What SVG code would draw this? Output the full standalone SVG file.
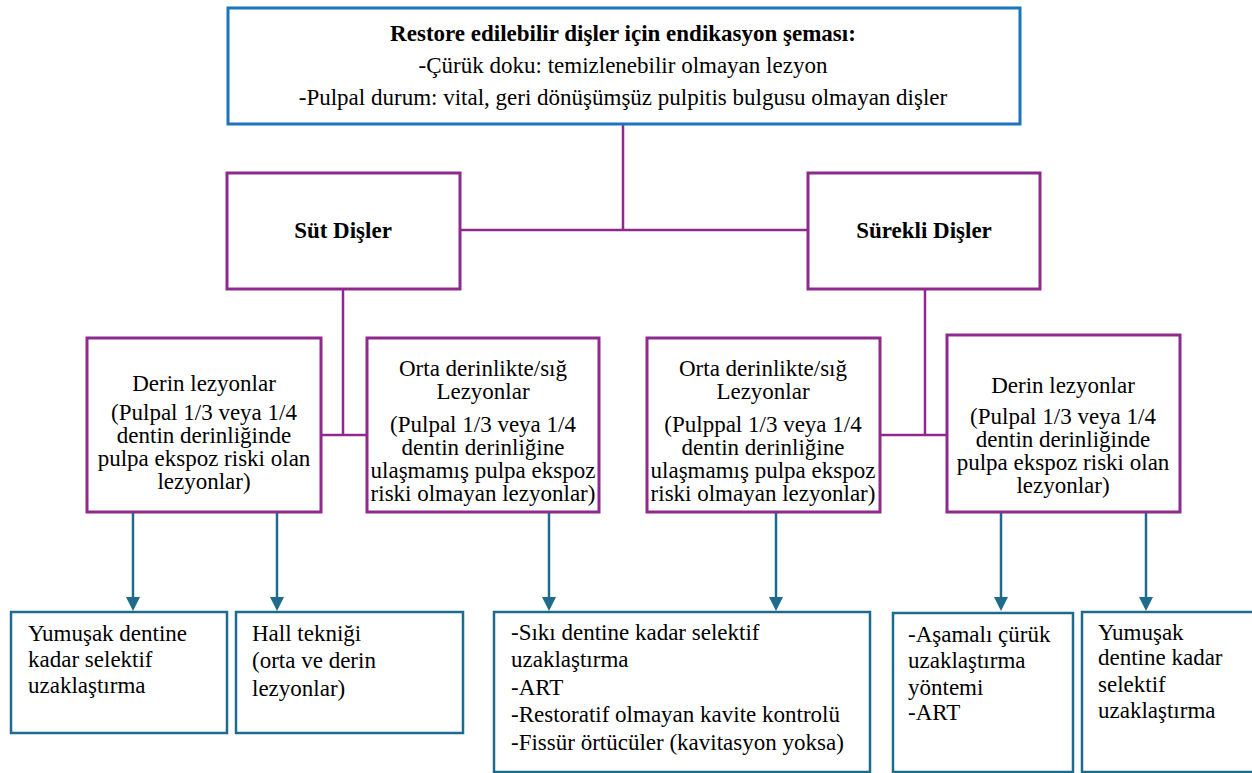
<svg xmlns="http://www.w3.org/2000/svg" width="1252" height="773" viewBox="0 0 1252 773">
<defs>
<style>
text{font-family:"Liberation Serif","Times New Roman","DejaVu Serif",serif;font-size:23px;fill:#000}
.b{font-weight:bold}
.c{text-anchor:middle}
.top{fill:#fff;stroke:#1b75bc;stroke-width:3}
.pb{fill:#fff;stroke:#8e2a8c;stroke-width:3}
.bb{fill:#fff;stroke:#1f6b8e;stroke-width:2.5}
.pl{fill:none;stroke:#8e2a8c;stroke-width:2.5}
.al{fill:none;stroke:#1f6b8e;stroke-width:2.5}
.ah{fill:#1f6b8e}
</style>
</defs>
<rect width="1252" height="773" fill="#fff"/>
<g id="connectors">
<path class="pl" d="M623,124 V230 M460,230 H808"/>
<path class="pl" d="M343,289 V435 M321,435 H367"/>
<path class="pl" d="M925,289 V435 M880,435 H947"/>
<g class="al">
<path d="M133,512 V598"/><path d="M277,512 V598"/><path d="M549,512 V598"/><path d="M776,512 V598"/><path d="M1001,512 V598"/><path d="M1146,512 V598"/>
</g>
<g class="ah">
<path d="M126,597 H140 L133,611 Z"/><path d="M270,597 H284 L277,611 Z"/><path d="M542,597 H556 L549,611 Z"/><path d="M769,597 H783 L776,611 Z"/><path d="M994,597 H1008 L1001,611 Z"/><path d="M1139,597 H1153 L1146,611 Z"/>
</g>
</g>
<g id="root">
<rect class="top" x="228" y="8" width="792" height="116"/>
<text class="b c" x="623" y="41">Restore edilebilir dişler için endikasyon şeması:</text>
<text class="c" x="623" y="73">-Çürük doku: temizlenebilir olmayan lezyon</text>
<text class="c" x="623" y="105">-Pulpal durum: vital, geri dönüşümşüz pulpitis bulgusu olmayan dişler</text>
</g>
<g id="sut">
<rect class="pb" x="227" y="173" width="233" height="116"/>
<text class="b c" x="343" y="238">Süt Dişler</text>
</g>
<g id="surekli">
<rect class="pb" x="808" y="173" width="232" height="116"/>
<text class="b c" x="924" y="238">Sürekli Dişler</text>
</g>
<g id="derin-sut">
<rect class="pb" x="87" y="338" width="234" height="174"/>
<text class="c" x="204" y="391">Derin lezyonlar</text>
<text class="c" x="204" y="420">(Pulpal 1/3 veya 1/4</text>
<text class="c" x="204" y="443">dentin derinliğinde</text>
<text class="c" x="204" y="466">pulpa ekspoz riski olan</text>
<text class="c" x="204" y="489">lezyonlar)</text>
</g>
<g id="orta-sut">
<rect class="pb" x="367" y="338" width="232" height="174"/>
<text class="c" x="483" y="376">Orta derinlikte/sığ</text>
<text class="c" x="483" y="399">Lezyonlar</text>
<text class="c" x="483" y="432">(Pulpal 1/3 veya 1/4</text>
<text class="c" x="483" y="455">dentin derinliğine</text>
<text class="c" x="483" y="478">ulaşmamış pulpa ekspoz</text>
<text class="c" x="483" y="501">riski olmayan lezyonlar)</text>
</g>
<g id="orta-surekli">
<rect class="pb" x="647" y="338" width="233" height="174"/>
<text class="c" x="763" y="376">Orta derinlikte/sığ</text>
<text class="c" x="763" y="399">Lezyonlar</text>
<text class="c" x="763" y="432">(Pulppal 1/3 veya 1/4</text>
<text class="c" x="763" y="455">dentin derinliğine</text>
<text class="c" x="763" y="478">ulaşmamış pulpa ekspoz</text>
<text class="c" x="763" y="501">riski olmayan lezyonlar)</text>
</g>
<g id="derin-surekli">
<rect class="pb" x="947" y="335" width="233" height="177"/>
<text class="c" x="1063" y="393">Derin lezyonlar</text>
<text class="c" x="1063" y="424">(Pulpal 1/3 veya 1/4</text>
<text class="c" x="1063" y="447">dentin derinliğinde</text>
<text class="c" x="1063" y="470">pulpa ekspoz riski olan</text>
<text class="c" x="1063" y="493">lezyonlar)</text>
</g>
<g id="b1">
<rect class="bb" x="11" y="612" width="216" height="121"/>
<text x="28" y="641">Yumuşak dentine</text>
<text x="28" y="667">kadar selektif</text>
<text x="28" y="693">uzaklaştırma</text>
</g>
<g id="b2">
<rect class="bb" x="236" y="612" width="227" height="121"/>
<text x="252" y="641">Hall tekniği</text>
<text x="252" y="668">(orta ve derin</text>
<text x="252" y="696">lezyonlar)</text>
</g>
<g id="b3">
<rect class="bb" x="494" y="612" width="376" height="160"/>
<text x="511" y="640">-Sıkı dentine kadar selektif</text>
<text x="511" y="667">uzaklaştırma</text>
<text x="511" y="695">-ART</text>
<text x="511" y="722">-Restoratif olmayan kavite kontrolü</text>
<text x="511" y="750">-Fissür örtücüler (kavitasyon yoksa)</text>
</g>
<g id="b4">
<rect class="bb" x="893" y="613" width="180" height="159"/>
<text x="908" y="642">-Aşamalı çürük</text>
<text x="908" y="668">uzaklaştırma</text>
<text x="908" y="695">yöntemi</text>
<text x="908" y="720">-ART</text>
</g>
<g id="b5">
<rect class="bb" x="1082" y="612" width="180" height="160"/>
<text x="1098" y="640">Yumuşak</text>
<text x="1098" y="665">dentine kadar</text>
<text x="1098" y="692">selektif</text>
<text x="1098" y="718">uzaklaştırma</text>
</g>
</svg>
